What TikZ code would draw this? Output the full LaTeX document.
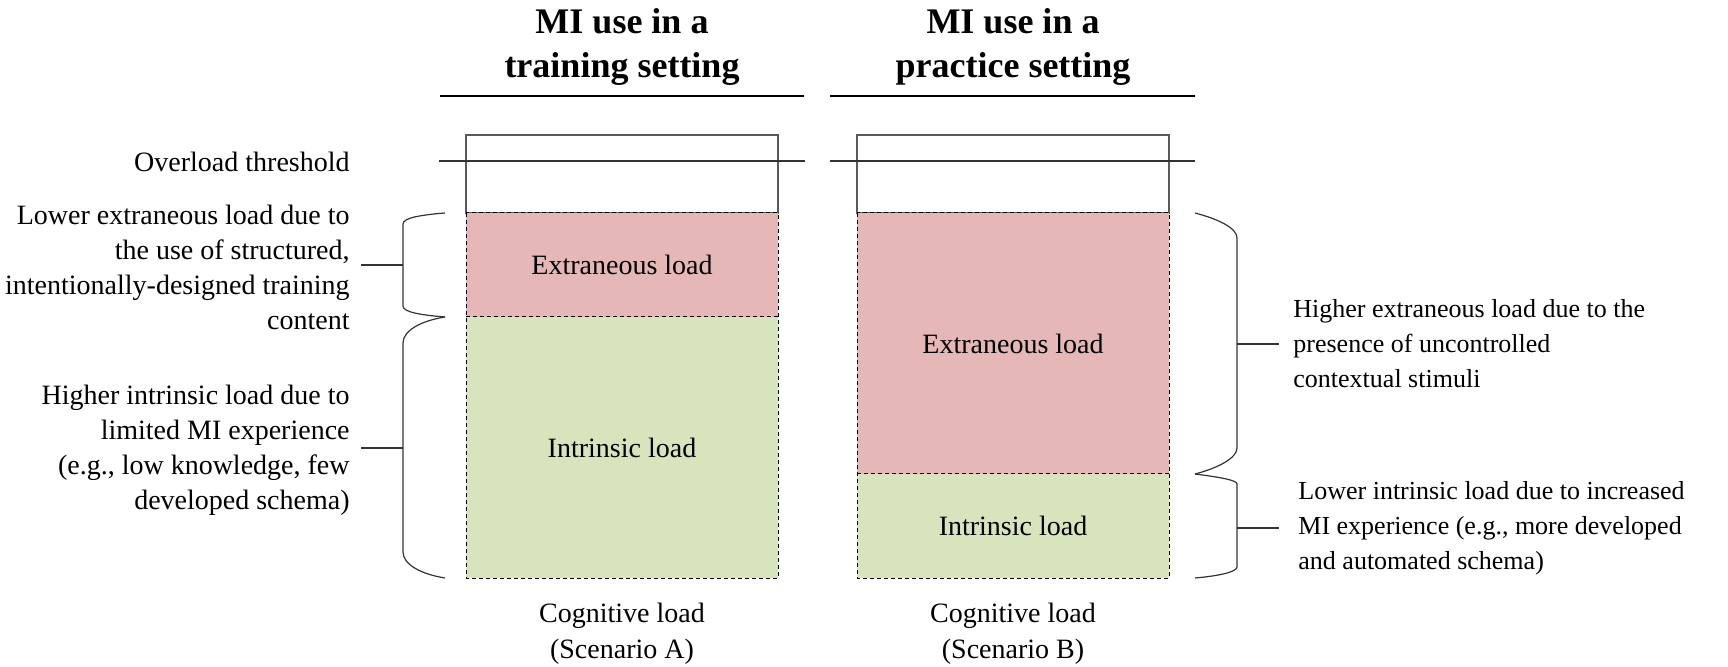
\documentclass[tikz,border=0pt]{standalone}
\usepackage{fontspec}
\setmainfont{Liberation Serif}
\definecolor{extred}{HTML}{E5B8B7}
\definecolor{intgreen}{HTML}{D8E4BC}
\begin{document}
\begin{tikzpicture}[x=0.5pt,y=-0.5pt,
  body/.style={font=\fontsize{14}{17.5}\selectfont, inner sep=0, text=black},
  sidetext/.style={font=\fontsize{13}{17.5}\selectfont, inner sep=0, text=black},
  ttl/.style={font=\bfseries\fontsize{18}{22}\selectfont, inner sep=0, align=center},
  region/.style={inner sep=0, outer sep=0, minimum width=156pt, font=\fontsize{14}{17.5}\selectfont},
  extreg/.style={region, fill=extred},
  intreg/.style={region, fill=intgreen},
  dashline/.style={draw=black, dash pattern=on 2pt off 1.5pt, line width=0.5pt},
  topreg/.style={draw=black!65, line width=0.6pt, inner sep=0, outer sep=0, minimum width=156pt, minimum height=39pt},
  rulel/.style={line width=1pt, draw=black},
  thr/.style={line width=0.8pt, draw=black!80},
  brc/.style={line width=0.6pt, draw=black!80},
]
\useasboundingbox (0,0) rectangle (1728,667);

% titles
\node[ttl] (titA) at (622,47) {MI use in a\\training setting};
\node[ttl] (titB) at (1013,47) {MI use in a\\practice setting};
\coordinate (ulA1) at (440,96); \coordinate (ulA2) at (804,96);
\coordinate (ulB1) at (830,96); \coordinate (ulB2) at (1195,96);
\draw[rulel] (ulA1) -- (ulA2);
\draw[rulel] (ulB1) -- (ulB2);

% stacks
\node[topreg] (topA) at (622,174) {};
\node[extreg, minimum height=52pt] (extA) at (622,265) {Extraneous load};
\node[intreg, minimum height=130.5pt] (intA) at (622,447.5) {Intrinsic load};
\draw[dashline] (extA.north west) rectangle (intA.south east);
\draw[dashline] (extA.south west) -- (extA.south east);
\node[topreg] (topB) at (1013,174) {};
\node[extreg, minimum height=130.5pt] (extB) at (1013,343.5) {Extraneous load};
\node[intreg, minimum height=52pt] (intB) at (1013,526) {Intrinsic load};
\draw[dashline] (extB.north west) rectangle (intB.south east);
\draw[dashline] (extB.south west) -- (extB.south east);

% threshold
\node[body, anchor=east] (ovl) at (350,162) {Overload threshold};
\coordinate (thA1) at (439,161); \coordinate (thA2) at (805,161);
\coordinate (thB1) at (830,161); \coordinate (thB2) at (1195,161);
\draw[thr] (thA1) -- (thA2);
\draw[thr] (thB1) -- (thB2);

% captions
\node[body, align=center, font=\fontsize{14}{18}\selectfont] (capA) at (622,634) {Cognitive load\\(Scenario A)};
\node[body, align=center, font=\fontsize{14}{18}\selectfont] (capB) at (1013,634) {Cognitive load\\(Scenario B)};

% left annotations
\node[body, anchor=east, align=right] (lA1) at (350,267) {Lower extraneous load due to\\the use of structured,\\intentionally-designed training\\content};
\node[body, anchor=east, align=right] (lA2) at (350,450) {Higher intrinsic load due to\\limited MI experience\\(e.g., low knowledge, few\\developed schema)};

% right annotations
\node[sidetext, anchor=west, align=left] (rB1) at (1293,344) {Higher extraneous load due to the\\presence of uncontrolled\\contextual stimuli};
\node[sidetext, anchor=west, align=left] (rB2) at (1298,528) {Lower intrinsic load due to increased\\MI experience (e.g., more developed\\and automated schema)};

% left braces
\coordinate (bA1t) at (445,213); \coordinate (bA1b) at (445,317);
\coordinate (bA2b) at (445,578);
\coordinate (bA1m) at (403,265); \coordinate (tA1) at (361,265);
\coordinate (bA2m) at (403,448); \coordinate (tA2) at (361,448);
\draw[brc] (bA1t) .. controls (420,215) and (403,218) .. (403,224) -- (403,306) .. controls (403,312) and (420,315) .. (bA1b);
\draw[brc] (bA1b) .. controls (420,321) and (403,331) .. (403,343) -- (403,552) .. controls (403,564) and (420,574) .. (bA2b);
\draw[brc] (bA1m) -- (tA1);
\draw[brc] (bA2m) -- (tA2);

% right braces
\coordinate (bB1t) at (1195,213); \coordinate (bB1b) at (1195,474);
\coordinate (bB2b) at (1195,578);
\coordinate (bB1m) at (1237,344); \coordinate (tB1) at (1279,344);
\coordinate (bB2m) at (1237,528); \coordinate (tB2) at (1279,528);
\draw[brc] (bB1t) .. controls (1218,219) and (1237,228) .. (1237,238) -- (1237,448) .. controls (1237,458) and (1218,468) .. (bB1b);
\draw[brc] (bB1b) .. controls (1218,477) and (1237,480) .. (1237,484) -- (1237,567) .. controls (1237,572) and (1218,576) .. (bB2b);
\draw[brc] (bB1m) -- (tB1);
\draw[brc] (bB2m) -- (tB2);
\end{tikzpicture}
\end{document}
